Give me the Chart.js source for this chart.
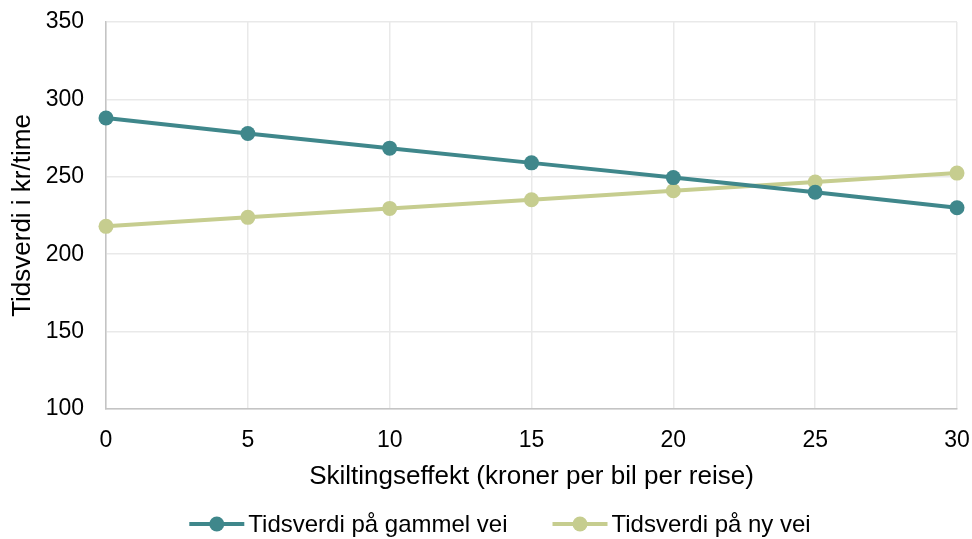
<!DOCTYPE html>
<html>
<head>
<meta charset="utf-8">
<script src="https://cdn.jsdelivr.net/npm/chart.js@4"></script>
<style>
  html, body { margin: 0; padding: 0; background: #ffffff; }
  #wrap { width: 972px; height: 539px; }
</style>
</head>
<body>
<div id="wrap"><canvas id="c" width="972" height="539"></canvas></div>
<script>
// Skiltingseffekt (kr per bil per reise)
const categories = [0, 5, 10, 15, 20, 25, 30];
// Tidsverdi i kr/time
const gammelVei = [288, 278, 268.5, 259, 249.5, 240, 230];
const nyVei = [218, 223.8, 229.6, 235.2, 241, 246.6, 252.4];
const seriesNames = ['Tidsverdi på gammel vei', 'Tidsverdi på ny vei'];
const yTicks = [100, 150, 200, 250, 300, 350];

const TEAL = '#3f878b';
const SAGE = '#c6cd8f';
const FONT = '"Liberation Sans", Arial, sans-serif';

const toPoints = vals => categories.map((x, i) => ({ x: x, y: vals[i] }));

// Bottom legend: short line with a dot, followed by the series name
const lineLegend = {
  id: 'lineLegend',
  afterDraw(chart) {
    const ctx = chart.ctx;
    const symW = 55, gapText = 4, gapItems = 45, cy = 524;
    ctx.save();
    ctx.font = '24px ' + FONT;
    const items = chart.data.datasets.map(ds => ({
      color: ds.borderColor, text: ds.label, tw: ctx.measureText(ds.label).width
    }));
    const total = items.reduce((s, it) => s + symW + gapText + it.tw, 0) + gapItems * (items.length - 1);
    let x = 500 - total / 2;
    items.forEach(it => {
      ctx.strokeStyle = it.color; ctx.lineWidth = 4;
      ctx.beginPath(); ctx.moveTo(x, cy); ctx.lineTo(x + symW, cy); ctx.stroke();
      ctx.fillStyle = it.color;
      ctx.beginPath(); ctx.arc(x + symW / 2, cy, 7.5, 0, Math.PI * 2); ctx.fill();
      ctx.fillStyle = '#000000';
      ctx.textBaseline = 'middle';
      ctx.fillText(it.text, x + symW + gapText, cy + 1);
      x += symW + gapText + it.tw + gapItems;
    });
    ctx.restore();
  }
};

new Chart(document.getElementById('c'), {
  type: 'line',
  data: {
    datasets: [
      {
        label: seriesNames[0],
        data: toPoints(gammelVei),
        borderColor: TEAL, backgroundColor: TEAL,
        borderWidth: 4, pointRadius: 7.5, pointHoverRadius: 7.5,
        pointBackgroundColor: TEAL, pointBorderWidth: 0, tension: 0,
        clip: false
      },
      {
        label: seriesNames[1],
        data: toPoints(nyVei),
        borderColor: SAGE, backgroundColor: SAGE,
        borderWidth: 4, pointRadius: 7.5, pointHoverRadius: 7.5,
        pointBackgroundColor: SAGE, pointBorderWidth: 0, tension: 0,
        clip: false
      }
    ]
  },
  plugins: [lineLegend],
  options: {
    responsive: false,
    animation: false,
    layout: { autoPadding: false, padding: { top: 22, right: 15, left: 0, bottom: 47 } },
    plugins: {
      tooltip: { enabled: false },
      legend: { display: false }
    },
    scales: {
      x: {
        type: 'linear',
        min: 0, max: 30,
        afterBuildTicks: axis => { axis.ticks = categories.map(v => ({ value: v })); },
        afterFit: axis => { axis.height = 83; axis.paddingLeft = 0; axis.paddingRight = 0; },
        grid: { color: '#e9e9e9', lineWidth: 1.5, drawTicks: false },
        border: { color: '#c4c4c4', width: 1.5 },
        ticks: { font: { family: FONT, size: 23 }, color: '#000000', padding: 18 },
        title: {
          display: true,
          text: 'Skiltingseffekt (kroner per bil per reise)',
          font: { family: FONT, size: 26 }, color: '#000000',
          padding: { top: 4, bottom: 0 }
        }
      },
      y: {
        min: 100, max: 350,
        afterBuildTicks: axis => { axis.ticks = yTicks.map(v => ({ value: v })); },
        afterFit: axis => { axis.width = 106; axis.paddingTop = 0; axis.paddingBottom = 0; },
        grid: { color: '#e9e9e9', lineWidth: 1.5, drawTicks: false },
        border: { color: '#c4c4c4', width: 1.5 },
        ticks: { font: { family: FONT, size: 23 }, color: '#000000', padding: 22 },
        title: {
          display: true,
          text: 'Tidsverdi i kr/time',
          font: { family: FONT, size: 26 }, color: '#000000',
          padding: { top: 7, bottom: 0 }
        }
      }
    }
  }
});
</script>
</body>
</html>
